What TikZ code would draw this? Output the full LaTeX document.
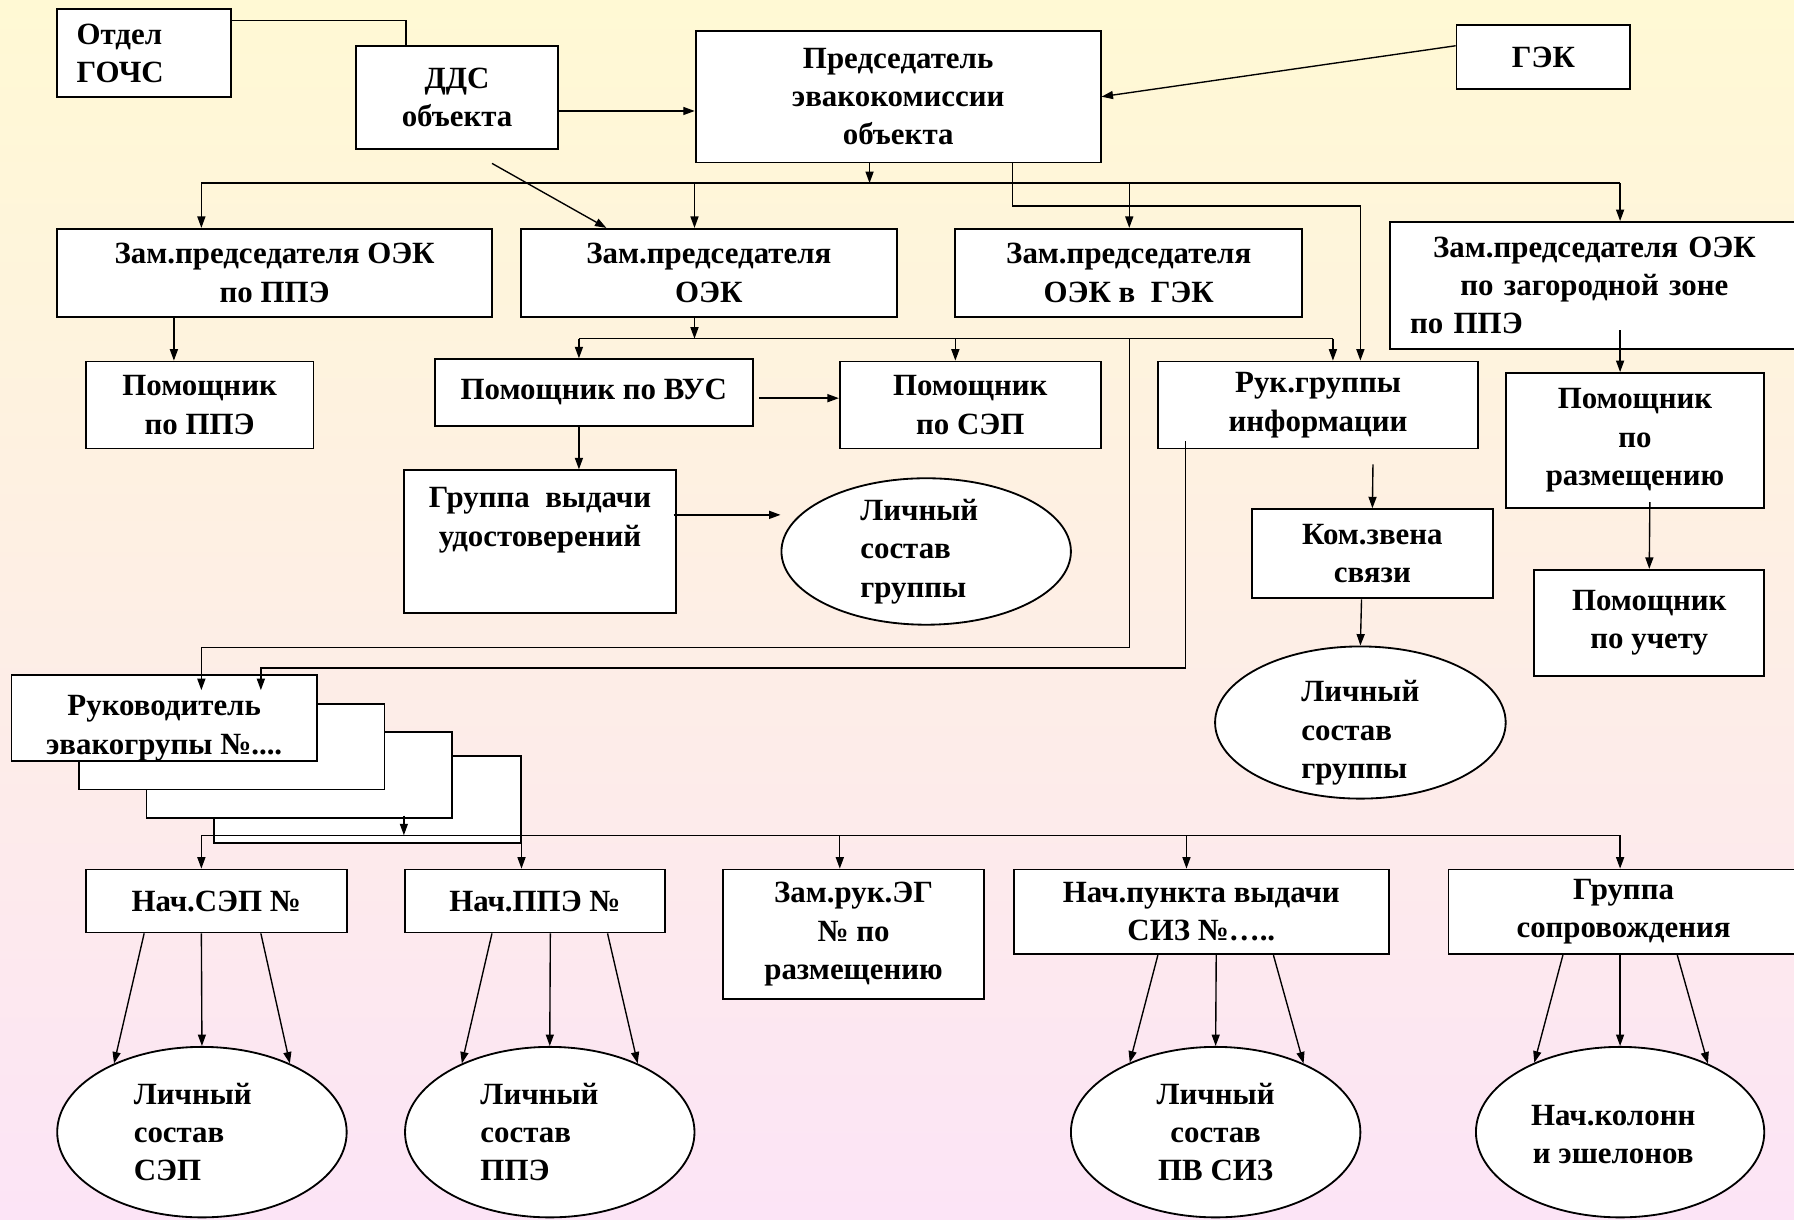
\documentclass[tikz,border=0pt]{standalone}
\usepackage{fontspec}
\setmainfont{Liberation Serif}
\usetikzlibrary{arrows.meta,shapes.geometric}
\definecolor{bgtop}{RGB}{255,249,212}
\definecolor{bgmid}{RGB}{254,238,230}
\definecolor{bgbot}{RGB}{252,228,246}
\tikzset{
  box/.style={draw=black, fill=white, line width=1.6pt, rectangle, inner sep=0pt, align=center,
    font=\bfseries\fontsize{27}{33.5}\selectfont},
  ell/.style={draw=black, fill=white, ellipse, line width=1.6pt, inner sep=0pt},
  lbl/.style={inner sep=0pt, align=left, font=\bfseries\fontsize{27}{33.5}\selectfont},
  arr/.style={-{Triangle[length=10pt,width=7pt]}, line width=1.2pt},
  ln/.style={line width=1.2pt}
}
\begin{document}
\begin{tikzpicture}[x=1pt,y=-1pt]
\useasboundingbox (0,0) rectangle (1568,1066);
\shade[top color=bgtop, middle color=bgmid, bottom color=bgbot] (0,0) rectangle (1568,1066);

% top row
\node[box, minimum width=152pt, minimum height=77pt, text width=118pt, align=left] (gochs) at (126,46.5) {Отдел\\ГОЧС};
\node[box, minimum width=177pt, minimum height=90pt] (dds) at (399.5,85) {ДДС\\объекта};
\node[box, minimum width=354pt, minimum height=115pt] (pred) at (785,84.5) {Председатель\\эвакокомиссии\\объекта};
\node[box, minimum width=152pt, minimum height=56pt] (gek) at (1349,50) {ГЭК};

% second row
\node[box, minimum width=380pt, minimum height=77pt] (zam1) at (240,238.5) {Зам.председателя ОЭК\\по ППЭ};
\node[box, minimum width=329pt, minimum height=77pt] (zam2) at (619.5,238.5) {Зам.председателя\\ОЭК};
\node[box, minimum width=303pt, minimum height=77pt] (zam3) at (986.5,238.5) {Зам.председателя\\ОЭК в\ \ ГЭК};
\node[box, minimum width=357pt, minimum height=111pt, text width=322pt] (zone) at (1393.5,249.5) {Зам.председателя ОЭК\\по загородной зоне\\\makebox[322pt][l]{по ППЭ}};

% third level
\node[box, minimum width=199pt, minimum height=76pt] (pomppe) at (174.5,354) {Помощник\\по ППЭ};
\node[box, minimum width=278pt, minimum height=58pt] (vus) at (519,343) {Помощник по ВУС};
\node[box, minimum width=228pt, minimum height=76pt] (sep) at (848,354) {Помощник\\по СЭП};
\node[box, minimum width=238pt, minimum height=125pt] (gvu) at (472,473.5) {Группа\ \ выдачи\\удостоверений\\\strut};
\node[ell, minimum width=253pt, minimum height=128pt,
  label={[lbl, xshift=-6pt]center:{Личный\\состав\\группы}}] (ell1) at (809.5,482) {};
\node[box, minimum width=280pt, minimum height=76pt] (ruk) at (1152,354) {Рук.группы\\информации};
\node[box, minimum width=211pt, minimum height=78pt] (kom) at (1199.5,484) {Ком.звена\\связи};
\node[ell, minimum width=254pt, minimum height=133pt,
  label={[lbl, yshift=-9pt]center:{Личный\\состав\\группы}}] (ell2) at (1189,631.5) {};
\node[box, minimum width=226pt, minimum height=118pt] (pomrazm) at (1429,385) {Помощник\\по\\размещению};
\node[box, minimum width=201pt, minimum height=93pt] (pomuch) at (1441.5,544.5) {Помощник\\по учету};

% stacked evacuation group boxes
\node[box, minimum width=268pt, minimum height=76pt] (st4) at (321,699) {};
\node[box, minimum width=267pt, minimum height=75pt] (st3) at (261.5,677.5) {};
\node[box, minimum width=267pt, minimum height=75pt] (st2) at (202.5,652.5) {};
\node[box, minimum width=267pt, minimum height=75pt,
  label={[lbl, align=center, yshift=-9pt]center:{Руководитель\\эвакогрупы №....}}] (rukev) at (143.5,627.5) {};

% bottom row
\node[box, minimum width=228pt, minimum height=55pt] (nsep) at (189,787.5) {Нач.СЭП №};
\node[box, minimum width=227pt, minimum height=55pt] (nppe) at (467.5,787.5) {Нач.ППЭ №};
\node[box, minimum width=228pt, minimum height=113pt] (zamruk) at (746,816.5) {Зам.рук.ЭГ\\№ по\\размещению};
\node[box, minimum width=328pt, minimum height=74pt] (npunkt) at (1050,797) {Нач.пункта выдачи\\СИЗ №…..};
\node[box, minimum width=306pt, minimum height=74pt] (grsop) at (1419,797) {Группа\\сопровождения};

\node[ell, minimum width=253pt, minimum height=149pt,
  label={[lbl, xshift=-8pt]center:{Личный\\состав\\СЭП}}] (lsep) at (176.5,989.5) {};
\node[ell, minimum width=253pt, minimum height=149pt,
  label={[lbl, xshift=-9pt]center:{Личный\\состав\\ППЭ}}] (lppe) at (480.5,989.5) {};
\node[ell, minimum width=253pt, minimum height=149pt,
  label={[lbl, align=center]center:{Личный\\состав\\ПВ СИЗ}}] (lsiz) at (1062.5,989.5) {};
\node[ell, minimum width=252pt, minimum height=149pt,
  label={[lbl, align=center, xshift=-6pt, yshift=-2pt]center:{Нач.колонн\\и эшелонов}}] (lkol) at (1416,989.5) {};

% coordinates
\coordinate (k1) at (355,18);
\coordinate (k2) at (488,97);
\coordinate (j1) at (760,160);
\coordinate (b1w) at (176,160);
\coordinate (b1a) at (607,160);
\coordinate (b1b) at (987,160);
\coordinate (b1e) at (1416,160);
\coordinate (k5) at (885,180);
\coordinate (k6) at (1189,180);
\coordinate (k4) at (530,200);
\coordinate (k7) at (152,300);
\coordinate (j2) at (607,296);
\coordinate (b2w) at (506,296);
\coordinate (b2a) at (835,296);
\coordinate (b2b) at (987,296);
\coordinate (b2e) at (1165,296);
\coordinate (k8) at (987,566);
\coordinate (k9) at (176,566);
\coordinate (k10) at (1036,584);
\coordinate (k11) at (228,584);
\coordinate (j3) at (353,730);
\coordinate (b3w) at (176,730);
\coordinate (b3a) at (734,730);
\coordinate (b3b) at (1037,730);
\coordinate (b3e) at (1416,730);

% connectors top
\draw[ln] (gochs.east |- k1) -- (k1) -- (k1 |- dds.north);
\draw[arr] (dds.east |- k2) -- (pred.west |- k2);
\draw[arr] ([yshift=10pt]gek.west) -- (pred.east);
\draw[arr] (pred.south -| j1) -- (j1);
\draw[ln] (b1w) -- (b1e);
\draw[arr] (b1w) -- (b1w |- zam1.north);
\draw[arr] (b1a) -- (b1a |- zam2.north);
\draw[arr] (b1b) -- (b1b |- zam3.north);
\draw[arr] (b1e) -- (b1e |- zone.north);
\draw[arr] ([xshift=30.5pt,yshift=-12pt]dds.south) -- (k4 |- zam2.north);
\draw[arr] (pred.south -| k5) -- (k5) -- (k6) -- (k6 |- ruk.north);

% level 2-3
\draw[arr] (zam1.south -| k7) -- (pomppe.north -| k7);
\draw[arr] (zam2.south -| j2) -- (j2);
\draw[ln] (b2w) -- (b2e);
\draw[arr] (b2w) -- (b2w |- vus.north);
\draw[arr] (b2a) -- (b2a |- sep.north);
\draw[arr] (b2e) -- (b2e |- ruk.north);
\draw[arr] (b2b) -- (k8) -- (k9) -- ([xshift=32.5pt,yshift=-14pt]rukev.north);
\draw[arr] ([xshift=-116pt,yshift=7pt]ruk.south) -- (k10) -- (k11) -- ([xshift=84.5pt,yshift=-14pt]rukev.north);
\draw[arr] ([xshift=5pt,yshift=-5pt]vus.east) -- ([yshift=6pt]sep.west);
\draw[arr] ([xshift=-13pt]vus.south) -- ([xshift=34pt]gvu.north);
\draw[arr] ([xshift=-3pt,yshift=23.5pt]gvu.east) -- ([yshift=32pt]ell1.west);
\draw[arr] ([xshift=48pt,yshift=-13pt]ruk.south) -- (kom.north);
\draw[arr] ([xshift=-9.5pt]kom.south) -- (ell2.north);
\draw[arr] ([xshift=22.5pt,yshift=17pt]zone.south) -- ([xshift=-13pt]pomrazm.north);
\draw[arr] ([xshift=13pt,yshift=6pt]pomrazm.south) -- (pomuch.north);

% bottom bus
\draw[arr] ([xshift=91.5pt,yshift=3pt]st3.south) -- (j3);
\draw[ln] (b3w) -- (b3e);
\draw[arr] (b3w) -- (b3w |- nsep.north);
\draw[arr] (b3a) -- (b3a |- zamruk.north);
\draw[arr] (b3b) -- (b3b |- npunkt.north);
\draw[arr] (b3e) -- (b3e |- grsop.north);
\draw[arr] (st4.north east) -- (st4.north east |- nppe.north);

% fans to circles
\draw[arr] ([xshift=-63pt]nsep.south) -- (lsep.142);
\draw[arr] ([xshift=-13pt]nsep.south) -- (lsep.north);
\draw[arr] ([xshift=39pt]nsep.south) -- (lsep.38);
\draw[arr] ([xshift=-37.5pt]nppe.south) -- (lppe.142);
\draw[arr] ([xshift=13.5pt]nppe.south) -- (lppe.north);
\draw[arr] ([xshift=63.5pt]nppe.south) -- (lppe.38);
\draw[arr] ([xshift=-38pt]npunkt.south) -- (lsiz.141);
\draw[arr] ([xshift=13pt]npunkt.south) -- (lsiz.north);
\draw[arr] ([xshift=63pt]npunkt.south) -- (lsiz.38);
\draw[arr] ([xshift=-53pt]grsop.south) -- (lkol.141);
\draw[arr] ([xshift=-3pt]grsop.south) -- (lkol.north);
\draw[arr] ([xshift=47pt]grsop.south) -- (lkol.38);
\end{tikzpicture}
\end{document}
